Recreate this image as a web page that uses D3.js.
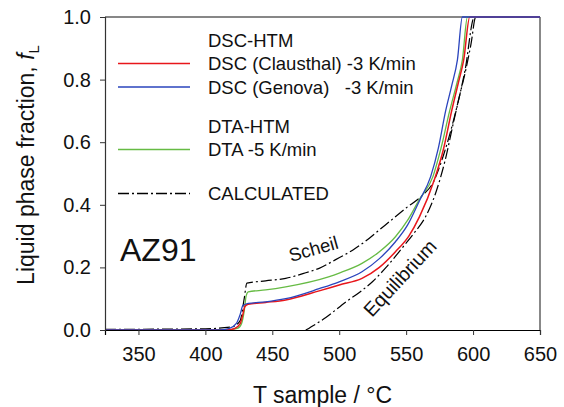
<!DOCTYPE html>
<html>
<head>
<meta charset="utf-8">
<script src="https://cdn.jsdelivr.net/npm/d3@7/dist/d3.min.js"></script>
<style>
  html, body { margin: 0; padding: 0; background: #fff; }
  svg { display: block; font-family: Arial, "Liberation Sans", sans-serif; }
</style>
</head>
<body>
<svg id="chart" width="564" height="407"></svg>
<script>
// Liquid fraction vs. sample temperature for AZ91 (cooling runs)
const tempDscClausthal = [325, 415, 422, 426, 428, 429.5, 432, 445, 460, 485, 500, 517, 530, 542, 552, 560, 571, 578, 584, 589, 593, 597.5, 650];
const fracDscClausthal = [0, 0, 0.005, 0.02, 0.05, 0.075, 0.082, 0.088, 0.096, 0.125, 0.144, 0.165, 0.2, 0.25, 0.3, 0.362, 0.479, 0.58, 0.70, 0.79, 0.863, 1.0, 1.0];

const tempDscGenova = [325, 410, 418, 423, 426, 428, 432, 445, 460, 485, 500, 517, 530, 542, 551, 559.6, 568.3, 574, 579.5, 584, 588.3, 592, 650];
const fracDscGenova = [0, 0, 0.005, 0.02, 0.05, 0.078, 0.085, 0.09, 0.10, 0.132, 0.154, 0.186, 0.228, 0.282, 0.335, 0.41, 0.49, 0.58, 0.70, 0.78, 0.863, 1.0, 1.0];

const tempDta = [325, 415, 424, 427, 429, 430.5, 432, 445, 460, 492, 500, 517, 530, 542, 551, 559.6, 570, 576, 582.5, 588, 592, 595.8, 650];
const fracDta = [0, 0, 0.005, 0.02, 0.06, 0.11, 0.122, 0.128, 0.138, 0.17, 0.182, 0.213, 0.25, 0.298, 0.35, 0.415, 0.49, 0.58, 0.70, 0.79, 0.863, 1.0, 1.0];

const tempScheil = [325, 400, 420, 426, 429, 431, 445, 460, 475, 485, 497, 510, 520, 530, 540, 550, 562, 570, 578, 586, 594, 601, 650];
const fracScheil = [0.002, 0.004, 0.01, 0.03, 0.10, 0.15, 0.157, 0.165, 0.183, 0.197, 0.224, 0.255, 0.285, 0.32, 0.355, 0.39, 0.43, 0.47, 0.56, 0.68, 0.83, 1.0, 1.0];

const tempEquilibrium = [475, 490, 505, 515, 525, 535, 547, 556, 564.5, 572, 579, 585.7, 590, 594.5, 598.5, 602, 650];
const fracEquilibrium = [0, 0.04, 0.09, 0.12, 0.155, 0.2, 0.262, 0.31, 0.362, 0.437, 0.54, 0.67, 0.75, 0.83, 0.915, 1.0, 1.0];

const xTicks = [350, 400, 450, 500, 550, 600, 650];
const yTicks = [0.0, 0.2, 0.4, 0.6, 0.8, 1.0];

const seriesNames = ["DSC (Clausthal) -3 K/min", "DSC (Genova)   -3 K/min", "DTA -5 K/min", "CALCULATED"];
const seriesColors = ["#e8161b", "#2a44bd", "#66bb44", "#000000"];

const svg = d3.select("#chart");
const plotLeft = 105, plotRight = 540, plotTop = 17, plotBottom = 330;

const x = d3.scaleLinear().domain([325, 650]).range([plotLeft, plotRight]);
const y = d3.scaleLinear().domain([0, 1]).range([plotBottom, plotTop]);

const line = d3.line()
  .x(d => x(d[0]))
  .y(d => y(d[1]))
  .curve(d3.curveMonotoneX);

const zip = (a, b) => a.map((v, i) => [v, b[i]]);
const dashDot = "11,3,2,3";

// plot frame: top and right edges
svg.append("line").attr("x1", plotLeft).attr("x2", plotRight).attr("y1", plotTop).attr("y2", plotTop)
  .attr("stroke", "#111").attr("stroke-width", 1.2);
svg.append("line").attr("x1", plotRight).attr("x2", plotRight).attr("y1", plotTop).attr("y2", plotBottom)
  .attr("stroke", "#888").attr("stroke-width", 2);

// curves
const curves = svg.append("g").attr("fill", "none");
curves.append("path").datum(zip(tempEquilibrium, fracEquilibrium)).attr("d", line)
  .attr("stroke", "#000").attr("stroke-width", 1.2).attr("stroke-dasharray", dashDot);
curves.append("path").datum(zip(tempScheil, fracScheil)).attr("d", line)
  .attr("stroke", "#000").attr("stroke-width", 1.2).attr("stroke-dasharray", dashDot);
curves.append("path").datum(zip(tempDta, fracDta)).attr("d", line)
  .attr("stroke", seriesColors[2]).attr("stroke-width", 1.3);
curves.append("path").datum(zip(tempDscClausthal, fracDscClausthal)).attr("d", line)
  .attr("stroke", seriesColors[0]).attr("stroke-width", 1.5);
curves.append("path").datum(zip(tempDscGenova, fracDscGenova)).attr("d", line)
  .attr("stroke", seriesColors[1]).attr("stroke-width", 1.3);

// axes
const xAxis = svg.append("g").attr("transform", `translate(0,${plotBottom})`)
  .call(d3.axisBottom(x).tickValues(xTicks).tickSize(5).tickPadding(12).tickFormat(d3.format("d")));
const yAxis = svg.append("g").attr("transform", `translate(${plotLeft},0)`)
  .call(d3.axisLeft(y).tickValues(yTicks).tickSize(5).tickPadding(9).tickFormat(d3.format(".1f")));
[xAxis, yAxis].forEach(g => {
  g.selectAll("text").attr("font-size", 20).attr("fill", "#111").attr("font-family", "Arial, 'Liberation Sans', sans-serif");
  g.selectAll(".tick line").attr("stroke", "#333");
});
xAxis.select(".domain").attr("stroke", "#000").attr("stroke-width", 1.2);
yAxis.select(".domain").attr("stroke", "#333").attr("stroke-width", 1.2);

// axis titles
svg.append("text").attr("x", (plotLeft + plotRight) / 2).attr("y", 403)
  .attr("text-anchor", "middle").attr("font-size", 23).attr("fill", "#111")
  .text("T sample / °C");

const yTitle = svg.append("text")
  .attr("transform", "translate(34,165) rotate(-90)")
  .attr("text-anchor", "middle").attr("font-size", 23).attr("fill", "#111");
yTitle.append("tspan").text("Liquid phase fraction, ");
yTitle.append("tspan").attr("font-style", "italic").text("f");
yTitle.append("tspan").attr("font-size", 15).attr("dy", 5).text("L");

// legend
const legend = svg.append("g").attr("font-size", 18.5).attr("fill", "#111");
const lx1 = 118, lx2 = 190, tx = 208;
legend.append("text").attr("x", tx).attr("y", 46.5).text("DSC-HTM");
legend.append("text").attr("x", tx).attr("y", 133).text("DTA-HTM");
const rows = [
  { y: 63.5, label: seriesNames[0], color: seriesColors[0], dash: null },
  { y: 87, label: seriesNames[1], color: seriesColors[1], dash: null },
  { y: 149.5, label: seriesNames[2], color: seriesColors[2], dash: null },
  { y: 193.5, label: seriesNames[3], color: seriesColors[3], dash: dashDot }
];
rows.forEach(r => {
  legend.append("line").attr("x1", lx1).attr("x2", lx2).attr("y1", r.y).attr("y2", r.y)
    .attr("stroke", r.color).attr("stroke-width", 1.3)
    .attr("stroke-dasharray", r.dash);
  legend.append("text").attr("x", tx).attr("y", r.y + 6.5)
    .style("white-space", "pre").text(r.label);
});

// annotations
svg.append("text").attr("x", 120).attr("y", 261).attr("font-size", 32).attr("fill", "#111").text("AZ91");
svg.append("text").attr("transform", "translate(291,262) rotate(-16)")
  .attr("font-size", 18.5).attr("fill", "#111").text("Scheil");
svg.append("text").attr("transform", "translate(372,318) rotate(-47)")
  .attr("font-size", 19.5).attr("fill", "#111").text("Equilibrium");
</script>
</body>
</html>
